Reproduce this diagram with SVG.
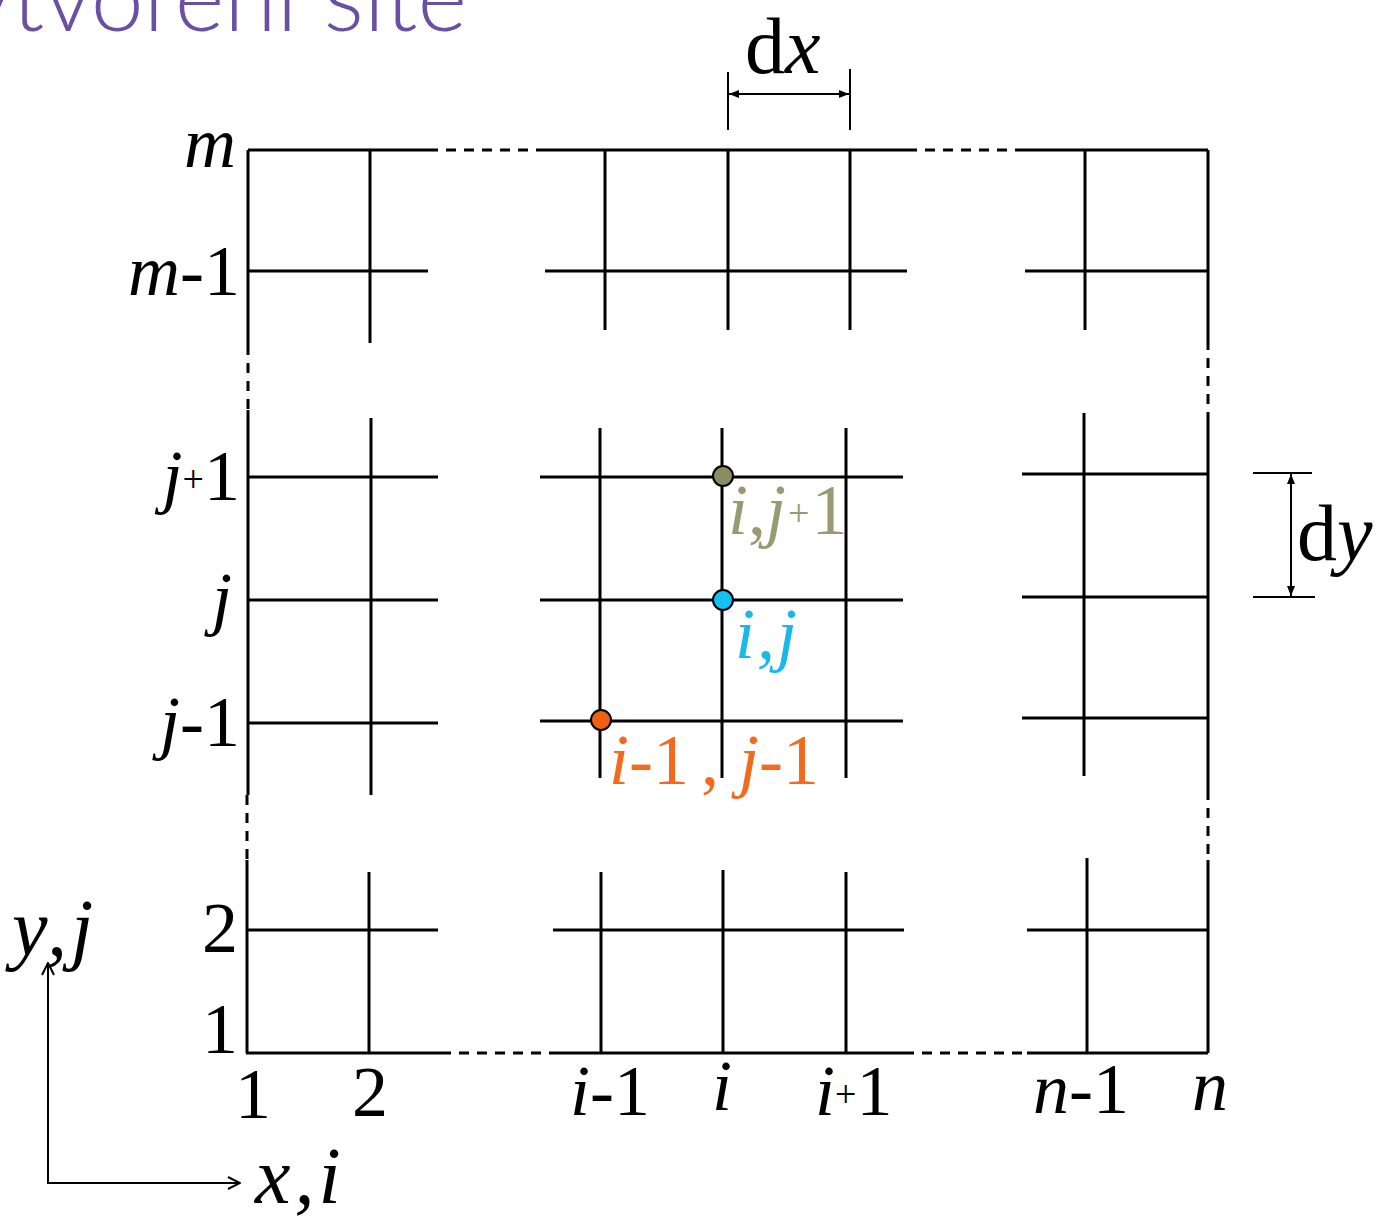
<svg xmlns="http://www.w3.org/2000/svg" width="1385" height="1218" viewBox="0 0 1385 1218">
<style>
.g{stroke:#000;stroke-width:3;fill:none;stroke-linecap:butt}
.d{stroke:#000;stroke-width:3;fill:none;stroke-dasharray:10 8}
.thin{stroke:#000;stroke-width:2;fill:none}
.t{font-family:'Liberation Serif','Times New Roman','DejaVu Serif',serif;font-size:72px;fill:#000}
.i{font-style:italic}
.s{font-size:38px}
.big{font-size:80px}
.title{font-family:Lato,'Open Sans',sans-serif;font-weight:300;font-size:95px;fill:#6a4fa3}
</style>
<defs>
<marker id="ah" viewBox="0 0 10 10" refX="10" refY="5" markerWidth="10" markerHeight="10" markerUnits="userSpaceOnUse" orient="auto-start-reverse">
<path d="M0,1 L10,5 L0,9 Z" fill="#000"/>
</marker>
<marker id="oh" viewBox="0 0 14 14" refX="13" refY="7" markerWidth="14" markerHeight="14" markerUnits="userSpaceOnUse" orient="auto">
<path d="M1,1 L13,7 L1,13" fill="none" stroke="#000" stroke-width="2"/>
</marker>
</defs>
<rect width="1385" height="1218" fill="#fff"/>
<text id="title" class="title" x="-96" y="31">Vytvoření sítě</text>

<g id="grid">
<path class="g" d="M248,150 H428 M545,150 H907 M1025,150 H1208"/>
<path class="d" d="M428,150 H545 M907,150 H1025"/>
<path class="g" d="M246,1053 H441 M553,1053 H904 M1027,1053 H1208"/>
<path class="d" d="M441,1053 H553 M904,1053 H1027"/>
<path class="g" d="M248,150 V345 M248,410 V795 M247,860 V1053"/>
<path class="d" d="M248,345 V410 M247,795 V860"/>
<path class="g" d="M1208,150 V340 M1208,412 V790 M1208,860 V1053"/>
<path class="d" d="M1208,340 V412 M1208,790 V860"/>
<path class="g" d="M248,271 H428 M545,271 H907 M1025,271 H1208"/>
<path class="g" d="M370,150 V343 M605,150 V330 M728,150 V330 M850,150 V330 M1085,150 V330"/>
<path class="g" d="M248,477 H438 M540,477 H903 M1022,474 H1208"/>
<path class="g" d="M248,600 H438 M540,600 H903 M1022,597 H1208"/>
<path class="g" d="M248,723 H438 M540,721 H903 M1022,718 H1208"/>
<path class="g" d="M371,418 V795 M600,428 V778 M722,428 V778 M846,428 V778 M1084,413 V776"/>
<path class="g" d="M246,930 H438 M553,930 H904 M1027,930 H1208"/>
<path class="g" d="M369,872 V1053 M601,872 V1053 M723,870 V1053 M846,872 V1053 M1087,858 V1053"/>
</g>

<g id="connectors">
<path class="thin" d="M728,72 V130 M850,69 V130"/>
<line class="thin" x1="729" y1="94" x2="849" y2="94" marker-start="url(#ah)" marker-end="url(#ah)"/>
<path class="thin" d="M1253,473 H1312 M1253,597 H1315"/>
<line class="thin" x1="1291" y1="474" x2="1291" y2="596" marker-start="url(#ah)" marker-end="url(#ah)"/>
<line class="thin" x1="48" y1="1183" x2="48" y2="963" marker-end="url(#oh)"/>
<line class="thin" x1="47" y1="1183" x2="240" y2="1183" marker-end="url(#oh)"/>
</g>

<g id="node-ij1">
<circle cx="723" cy="476" r="10" fill="#8c8c63" stroke="#000" stroke-width="2"/>
<text class="t" style="fill:#9a9a72" x="728" y="534"><tspan class="i">i</tspan>,<tspan class="i">j</tspan><tspan class="s" dy="-8" dx="2">+</tspan><tspan dy="8" dx="2">1</tspan></text>
</g>
<g id="node-ij">
<circle cx="723" cy="600" r="10" fill="#13c0f2" stroke="#000" stroke-width="2"/>
<text class="t i" style="fill:#1ab8e8;letter-spacing:2px" x="735" y="658">i,j</text>
</g>
<g id="node-i1j1">
<circle cx="601" cy="720" r="10" fill="#ef6011" stroke="#000" stroke-width="2"/>
<text class="t" style="fill:#f26a1e" x="609" y="784"><tspan class="i">i</tspan>-1<tspan dx="12">,</tspan><tspan dx="20" class="i">j</tspan>-1</text>
</g>

<g id="labels">
<text class="t i" text-anchor="end" x="236" y="167">m</text>
<text class="t" text-anchor="end" x="240" y="295"><tspan class="i">m</tspan>-1</text>
<text class="t" text-anchor="end" x="240" y="500"><tspan class="i">j</tspan><tspan class="s" dy="-8">+</tspan><tspan dy="8">1</tspan></text>
<text class="t i" text-anchor="end" x="232" y="622">j</text>
<text class="t" text-anchor="end" x="240" y="746"><tspan class="i">j</tspan>-1</text>
<text class="t" text-anchor="end" x="238" y="952">2</text>
<text class="t" text-anchor="end" x="238" y="1053">1</text>
<text class="t" text-anchor="middle" x="253" y="1118">1</text>
<text class="t" text-anchor="middle" x="370" y="1116">2</text>
<text class="t" x="570" y="1115"><tspan class="i">i</tspan>-1</text>
<text class="t i" text-anchor="middle" x="722" y="1110">i</text>
<text class="t" x="815" y="1115"><tspan class="i">i</tspan><tspan class="s" dy="-8">+</tspan><tspan dy="8">1</tspan></text>
<text class="t" x="1033" y="1113"><tspan class="i">n</tspan>-1</text>
<text class="t i" x="1192" y="1110">n</text>
<text class="t big" x="745" y="73">d<tspan class="i">x</tspan></text>
<text class="t big" x="1297" y="560">d<tspan class="i">y</tspan></text>
<text class="t i big" style="letter-spacing:4px" x="12" y="955">y,j</text>
<text class="t i big" style="letter-spacing:4px" x="255" y="1203">x,i</text>
</g>
</svg>
